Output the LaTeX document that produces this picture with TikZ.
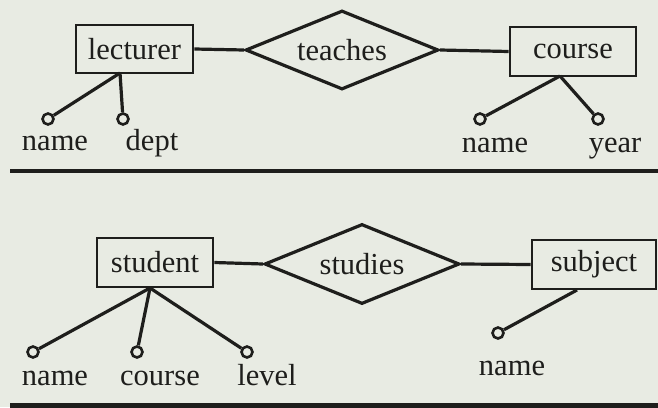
\documentclass[tikz,border=0pt]{standalone}
\usepackage{fontspec}
\setmainfont{Liberation Serif}
\usetikzlibrary{positioning,shapes.geometric}
\definecolor{paper}{RGB}{232,235,227}
\definecolor{ink}{RGB}{30,30,28}

\begin{document}
\begin{tikzpicture}[x=1pt, y=-1pt, line width=3.2pt, draw=ink,
  font=\fontsize{30.5}{35}\selectfont\color{ink},
  entity/.style={draw=ink, rectangle, line width=2.8pt, inner sep=0pt, minimum height=48pt},
  relation/.style={draw=ink, diamond, aspect=2.45, inner sep=0pt},
  attr/.style={draw=ink, circle, line width=2.6pt, inner sep=0pt, minimum size=11pt},
  lbl/.style={anchor=base, inner sep=0pt}]
  % Paper
  \fill[paper] (0,0) rectangle (658,407);
  \useasboundingbox (0,0) rectangle (658,407);

  % lecturer -- teaches -- course
  \node[entity, minimum width=117pt] (lecturer) at (134.5,49) {lecturer};
  \node[relation, minimum width=193pt, minimum height=79pt] (teaches) at (342,50) {teaches};
  \node[entity, minimum width=126pt, minimum height=49pt] (course) at (573,51.5) {course};
  \draw (lecturer.east) -- (teaches.west);
  \draw (teaches.east) -- (course.west);
  % lecturer attributes
  \coordinate (ljoin) at (120,73);
  \node[attr] (lname) at (48,119) {};
  \node[attr] (ldept) at (123,119) {};
  \draw (ljoin) -- (lname);
  \draw (ljoin) -- (ldept);
  \node[lbl] (lnametext) at (55,150) {name};
  \node[lbl] (ldepttext) at (152,150) {dept};
  % course attributes
  \coordinate (cjoin) at (560,76);
  \node[attr] (cname) at (480,119) {};
  \node[attr] (cyear) at (598,119) {};
  \draw (cjoin) -- (cname);
  \draw (cjoin) -- (cyear);
  \node[lbl] (cnametext) at (495,152) {name};
  \node[lbl] (cyeartext) at (615,152) {year};

  % Divider
  \draw[line width=4pt] (10,171) -- (658,171);

  % student -- studies -- subject
  \node[entity, minimum width=116pt, minimum height=49pt] (student) at (155,262.5) {student};
  \node[relation, minimum width=195pt, minimum height=80pt] (studies) at (362,264) {studies};
  \node[entity, minimum width=124pt, minimum height=49pt] (subject) at (594,264.5) {subject};
  \draw (student.east) -- (studies.west);
  \draw (studies.east) -- (subject.west);
  % student attributes
  \coordinate (sjoin) at (150,288);
  \node[attr] (sname) at (33,352) {};
  \node[attr] (scourse) at (137,352) {};
  \node[attr] (slevel) at (247,352) {};
  \draw (sjoin) -- (sname);
  \draw (sjoin) -- (scourse);
  \draw (sjoin) -- (slevel);
  \node[lbl] (snametext) at (55,385) {name};
  \node[lbl] (scoursetext) at (160,385) {course};
  \node[lbl] (sleveltext) at (267,385) {level};
  % subject attribute
  \coordinate (ujoin) at (577,290);
  \node[attr] (uname) at (498,333) {};
  \draw (ujoin) -- (uname);
  \node[lbl] (unametext) at (512,375) {name};

  % Bottom rule
  \draw[line width=5pt] (10,405.5) -- (658,405.5);
\end{tikzpicture}
\end{document}
